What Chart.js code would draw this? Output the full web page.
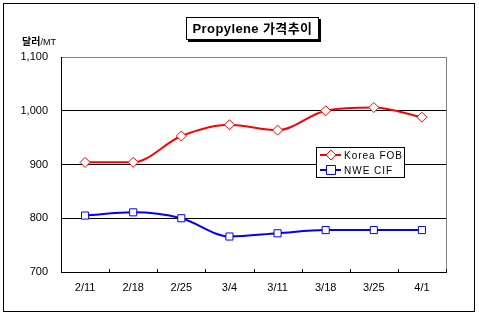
<!DOCTYPE html>
<html>
<head>
<meta charset="utf-8">
<script src="https://cdn.jsdelivr.net/npm/chart.js@4"></script>
<style>
  html, body { margin: 0; padding: 0; background: #fff; }
  #wrap { position: relative; width: 479px; height: 319px; }
  #title {
    position: absolute; left: 186px; top: 17px; width: 131px; height: 21px;
    border: 1px solid #000; background: #fff; box-shadow: 2px 2px 0 #000;
    font: bold 13px Arial, "Noto Sans CJK KR", sans-serif; line-height: 21px;
    text-align: center; letter-spacing: 0.4px; white-space: nowrap;
  }
  #unit {
    position: absolute; left: 22px; top: 33px; white-space: nowrap;
    font: bold 10px "Noto Sans CJK KR", sans-serif;
  }
  #unit span { font: 9px Arial, sans-serif; }
</style>
</head>
<body>
<div id="wrap">
  <canvas id="myChart" width="479" height="319"></canvas>
  <div id="title">Propylene 가격추이</div>
  <div id="unit">달러<span>/MT</span></div>
</div>
<script>
const ctx = document.querySelector('#myChart');

const labels = ['2/11', '2/18', '2/25', '3/4', '3/11', '3/18', '3/25', '4/1'];
const koreaFob = [904, 904, 953, 974, 964, 1000, 1006, 988];
const nweCif = [805, 811, 800, 766, 772, 778, 778, 778];
const yTicks = [700, 800, 900, 1000, 1100];

const datasets = [
    {
        label: 'Korea FOB',
        data: koreaFob,
        borderColor: '#ff0000',
        borderWidth: 2,
        pointStyle: 'rectRot',
        pointRadius: 5,
        pointBorderWidth: 1,
        pointBackgroundColor: '#fff',
        cubicInterpolationMode: 'monotone'
    },
    {
        label: 'NWE CIF',
        data: nweCif,
        borderColor: '#0000ff',
        borderWidth: 2,
        pointStyle: 'rect',
        pointRadius: 5,
        pointBorderWidth: 1,
        pointBackgroundColor: '#fff',
        cubicInterpolationMode: 'monotone'
    }
];

// frame, right border, inner ticks and the boxed legend
const extras = {
    id: 'extras',
    afterDraw(chart) {
        const c = chart.ctx;
        const a = chart.chartArea;
        c.save();
        c.strokeStyle = '#808080';
        c.lineWidth = 1;
        c.beginPath();
        c.moveTo(a.right + 0.5, a.top);
        c.lineTo(a.right + 0.5, a.bottom);
        c.stroke();

        c.strokeStyle = '#000';
        const n = labels.length;
        for (let i = 1; i <= n; i++) {
            const x = Math.round(a.left + i * (a.right - a.left) / n) + 0.5;
            c.beginPath();
            c.moveTo(x, a.bottom);
            c.lineTo(x, a.bottom - 3);
            c.stroke();
        }

        c.strokeRect(3.5, 3.5, 471, 308);

        // legend
        const lx = 316, ly = 147, lw = 88, lh = 30;
        c.fillStyle = '#fff';
        c.fillRect(lx, ly, lw, lh);
        c.strokeRect(lx + 0.5, ly + 0.5, lw, lh);
        c.font = '10px Arial';
        c.letterSpacing = '1px';
        c.textBaseline = 'middle';
        chart.data.datasets.forEach((ds, i) => {
            const y = ly + 8 + i * 15;
            c.strokeStyle = ds.borderColor;
            c.lineWidth = 2;
            c.beginPath();
            c.moveTo(lx + 4, y);
            c.lineTo(lx + 25, y);
            c.stroke();
            c.lineWidth = 1;
            c.fillStyle = '#fff';
            c.beginPath();
            if (ds.pointStyle === 'rectRot') {
                c.moveTo(lx + 15, y - 5);
                c.lineTo(lx + 20, y);
                c.lineTo(lx + 15, y + 5);
                c.lineTo(lx + 10, y);
                c.closePath();
            } else {
                c.rect(lx + 10.5, y - 4.5, 9, 9);
            }
            c.fill();
            c.stroke();
            c.fillStyle = '#000';
            c.fillText(ds.label, lx + 28, y + 1);
        });
        c.restore();
    }
};

new Chart(ctx, {
    type: 'line',
    data: { labels, datasets },
    options: {
        responsive: false,
        animation: false,
        layout: { padding: { top: 57, right: 33, left: 0, bottom: 0 } },
        plugins: {
            legend: { display: false },
            title: { display: false },
            tooltip: { enabled: false }
        },
        scales: {
            x: {
                offset: true,
                grid: { display: false, drawTicks: false },
                border: { color: '#000', width: 1 },
                ticks: { color: '#000', font: { family: 'Arial', size: 11 }, padding: 9, maxRotation: 0 },
                afterFit(s) { s.height = 47; }
            },
            y: {
                min: 700,
                max: 1100,
                afterBuildTicks(s) { s.ticks = yTicks.map(v => ({ value: v })); },
                grid: {
                    drawTicks: false,
                    color: c => c.tick && c.tick.value === 1100 ? '#808080' : '#000'
                },
                border: { color: '#000', width: 1 },
                ticks: { color: '#000', font: { family: 'Arial', size: 11 }, padding: 13 },
                afterFit(s) { s.width = 61; }
            }
        }
    },
    plugins: [extras]
});
</script>
</body>
</html>
